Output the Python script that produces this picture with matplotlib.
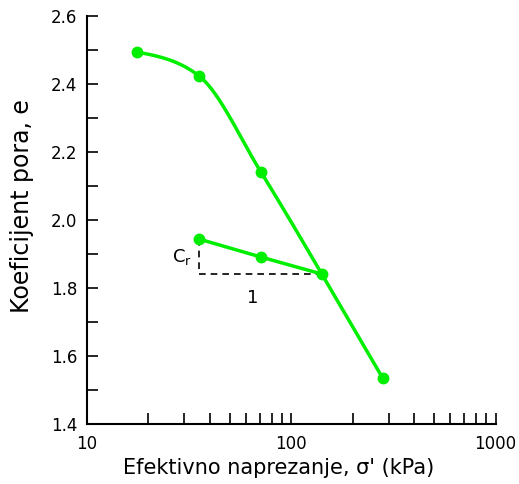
import numpy as np
import matplotlib
matplotlib.use("Agg")
import matplotlib.pyplot as plt
from matplotlib.ticker import FixedLocator, NullFormatter

# loading branch (smooth part) and virgin straight part
load_x = [17.6, 35.3, 71.0, 141.0]
load_e = [2.494, 2.424, 2.141, 1.841]
virgin_x = [141.0, 280.0]
virgin_e = [1.841, 1.535]
# unloading/reloading branch
rebound_x = [35.3, 71.0, 141.0]
rebound_e = [1.944, 1.891, 1.841]

yticks = [1.4, 1.6, 1.8, 2.0, 2.2, 2.4, 2.6]
xticks = [10, 100, 1000]


def smooth(xs, ys, end_slope, n=300):
    # cubic hermite in log-x space, tangents = geometric mean of secants
    x = np.log10(xs)
    y = np.asarray(ys, dtype=float)
    d = np.diff(y) / np.diff(x)
    m = np.empty_like(y)
    m[1:-1] = -np.sqrt(d[:-1] * d[1:])
    m[0] = d[0] * 0.5
    m[-1] = end_slope
    xx = np.linspace(x[0], x[-1], n)
    yy = np.empty_like(xx)
    for j, t in enumerate(xx):
        k = min(np.searchsorted(x, t, side="right") - 1, len(x) - 2)
        h = x[k + 1] - x[k]
        s = (t - x[k]) / h
        yy[j] = (2 * s**3 - 3 * s**2 + 1) * y[k] + (s**3 - 2 * s**2 + s) * h * m[k] \
            + (-2 * s**3 + 3 * s**2) * y[k + 1] + (s**3 - s**2) * h * m[k + 1]
    return 10**xx, yy


green = "#00ee00"
fig = plt.figure(figsize=(5.19, 4.84), dpi=100)
ax = fig.add_axes([0.1676, 0.124, 0.7874, 0.843])

vslope = (virgin_e[1] - virgin_e[0]) / np.log10(virgin_x[1] / virgin_x[0])
sx, sy = smooth(load_x, load_e, vslope)
ax.plot(sx, sy, color=green, lw=2.5, zorder=3)
ax.plot(virgin_x, virgin_e, color=green, lw=2.5, zorder=3)
ax.plot(rebound_x, rebound_e, color=green, lw=2.5, zorder=3)
ax.plot(load_x + virgin_x[1:], load_e + virgin_e[1:], "o", color=green, ms=7.5, zorder=4)
ax.plot(rebound_x[:2], rebound_e[:2], "o", color=green, ms=7.5, zorder=4)

# Cr triangle
ax.plot([rebound_x[0], rebound_x[0]], [rebound_e[0], rebound_e[-1]], color="black", lw=1.2, dashes=(4, 3), zorder=2)
ax.plot([rebound_x[0], rebound_x[-1]], [rebound_e[-1], rebound_e[-1]], color="black", lw=1.2, dashes=(4, 3), zorder=2)
ax.text(32.5, 1.89, r"C$_\mathregular{r}$", fontsize=13, ha="right", va="center")
ax.text(65, 1.77, "1", fontsize=13, ha="center", va="center")

ax.set_xscale("log")
ax.set_xlim(10, 1000)
ax.set_ylim(1.4, 2.6)
ax.xaxis.set_major_locator(FixedLocator(xticks))
ax.xaxis.set_minor_locator(FixedLocator([k * 10**p for p in (1, 2) for k in range(2, 10)]))
ax.xaxis.set_minor_formatter(NullFormatter())
ax.set_xticklabels([str(v) for v in xticks])
ax.set_yticks(yticks)
ax.set_yticklabels([f"{v:.1f}" for v in yticks])
ax.set_yticks(np.arange(1.5, 2.6, 0.2), minor=True)

for s in ("top", "right"):
    ax.spines[s].set_visible(False)
for s in ("left", "bottom"):
    ax.spines[s].set_linewidth(1.5)
ax.tick_params(which="both", direction="in", length=8, width=1.2, labelsize=12)
ax.tick_params(axis="x", pad=8)
ax.tick_params(axis="y", pad=7)

ax.set_xlabel("Efektivno naprezanje, σ' (kPa)", fontsize=15)
ax.set_ylabel("Koeficijent pora, e", fontsize=17)
ax.xaxis.set_label_coords(0.4686, -0.083)
ax.yaxis.set_label_coords(-0.13, 0.535)

fig.savefig("out.png", dpi=100)
